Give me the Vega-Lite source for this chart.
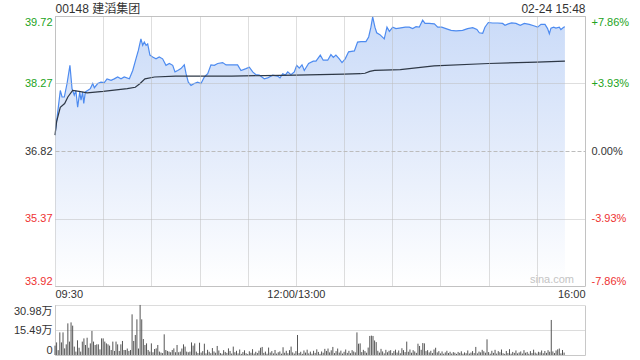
{
  "$schema": "https://vega.github.io/schema/vega-lite/v6.json",
  "padding": {"left": 13, "top": 1, "right": 0, "bottom": 0},
  "background": "white",
  "config": {
    "font": "Liberation Sans",
    "axis": {"labelFont": "Liberation Sans, Noto Sans CJK SC, sans-serif", "labelFontSize": 11, "labelColor": "#333333", "ticks": false, "domain": false, "title": null, "labelOverlap": false},
    "concat": {"spacing": 4}
  },
  "datasets": {
    "price": [
      {"t":0,"p":37.16},{"t":1.5,"p":37.6},{"t":3.3,"p":38.12},{"t":4.4,"p":37.98},{"t":5.8,"p":37.98},{"t":7.5,"p":38.27},{"t":9.3,"p":38.66},{"t":10.6,"p":38.16},{"t":12,"p":38.02},{"t":13,"p":38.12},{"t":14.1,"p":37.76},{"t":15.4,"p":38.09},{"t":16.2,"p":37.91},{"t":17.2,"p":38.09},{"t":17.9,"p":37.84},{"t":18.9,"p":38.09},{"t":20.3,"p":38.12},{"t":22,"p":38.16},{"t":23.5,"p":38.27},{"t":24.5,"p":38.18},{"t":26.6,"p":38.27},{"t":28.6,"p":38.30},{"t":30.7,"p":38.29},{"t":32.4,"p":38.37},{"t":34.9,"p":38.34},{"t":36.9,"p":38.37},{"t":39,"p":38.41},{"t":41.1,"p":38.37},{"t":43.1,"p":38.41},{"t":46.3,"p":38.37},{"t":48.4,"p":38.55},{"t":50.4,"p":38.80},{"t":51.9,"p":38.98},{"t":53.5,"p":39.23},{"t":54.6,"p":39.09},{"t":55.6,"p":39.16},{"t":56.7,"p":39.09},{"t":57.7,"p":39.12},{"t":59.1,"p":38.88},{"t":60.8,"p":38.84},{"t":62.9,"p":38.80},{"t":64.9,"p":38.84},{"t":67,"p":38.80},{"t":69.1,"p":38.66},{"t":71.2,"p":38.70},{"t":73.3,"p":38.66},{"t":74.7,"p":38.52},{"t":76.4,"p":38.55},{"t":78.4,"p":38.59},{"t":80.5,"p":38.67},{"t":81.6,"p":38.48},{"t":83,"p":38.30},{"t":84.7,"p":38.23},{"t":86.7,"p":38.27},{"t":88.8,"p":38.30},{"t":90.9,"p":38.27},{"t":93,"p":38.41},{"t":95.1,"p":38.48},{"t":97.1,"p":38.67},{"t":99.2,"p":38.66},{"t":101.3,"p":38.70},{"t":104.4,"p":38.72},{"t":106.5,"p":38.67},{"t":109.6,"p":38.67},{"t":113.7,"p":38.67},{"t":115.8,"p":38.55},{"t":118.9,"p":38.59},{"t":121,"p":38.62},{"t":123.1,"p":38.52},{"t":125.1,"p":38.46},{"t":127.2,"p":38.45},{"t":130.3,"p":38.37},{"t":132.4,"p":38.39},{"t":135.5,"p":38.45},{"t":138.6,"p":38.43},{"t":140.1,"p":38.39},{"t":141.8,"p":38.48},{"t":143.4,"p":38.45},{"t":144.9,"p":38.52},{"t":146.9,"p":38.46},{"t":149,"p":38.52},{"t":150.5,"p":38.66},{"t":152.1,"p":38.60},{"t":153.8,"p":38.67},{"t":155.2,"p":38.55},{"t":157.9,"p":38.70},{"t":160.8,"p":38.75},{"t":162.5,"p":38.75},{"t":165.2,"p":38.88},{"t":167,"p":38.77},{"t":169.8,"p":38.77},{"t":171.8,"p":38.89},{"t":173.3,"p":38.83},{"t":174.9,"p":38.88},{"t":177,"p":38.80},{"t":178.7,"p":38.72},{"t":180.7,"p":38.80},{"t":182.8,"p":38.95},{"t":186.4,"p":38.97},{"t":188.4,"p":39.16},{"t":190.5,"p":39.17},{"t":193.6,"p":39.17},{"t":195.3,"p":39.27},{"t":196.7,"p":39.48},{"t":197.8,"p":39.70},{"t":199.2,"p":39.48},{"t":200.3,"p":39.36},{"t":202.3,"p":39.32},{"t":205,"p":39.23},{"t":206.7,"p":39.48},{"t":208.2,"p":39.39},{"t":210.3,"p":39.48},{"t":212.3,"p":39.45},{"t":214.4,"p":39.46},{"t":218.1,"p":39.48},{"t":220.6,"p":39.48},{"t":222.7,"p":39.45},{"t":224.8,"p":39.49},{"t":226.8,"p":39.48},{"t":228.9,"p":39.63},{"t":230.4,"p":39.56},{"t":233,"p":39.56},{"t":236.2,"p":39.55},{"t":238.3,"p":39.48},{"t":240.8,"p":39.48},{"t":243.4,"p":39.45},{"t":246.6,"p":39.41},{"t":249.7,"p":39.40},{"t":253.8,"p":39.41},{"t":256.9,"p":39.45},{"t":260.1,"p":39.47},{"t":262.7,"p":39.43},{"t":264.2,"p":39.36},{"t":266.3,"p":39.35},{"t":267.7,"p":39.48},{"t":269.8,"p":39.58},{"t":272.5,"p":39.57},{"t":275.6,"p":39.57},{"t":278.7,"p":39.56},{"t":280.2,"p":39.52},{"t":282.2,"p":39.55},{"t":284.3,"p":39.57},{"t":287,"p":39.56},{"t":289.7,"p":39.52},{"t":292.2,"p":39.56},{"t":295.3,"p":39.54},{"t":298.1,"p":39.51},{"t":300.5,"p":39.48},{"t":302.6,"p":39.54},{"t":305.1,"p":39.54},{"t":306.7,"p":39.45},{"t":307.8,"p":39.34},{"t":308.8,"p":39.46},{"t":310.5,"p":39.48},{"t":311.9,"p":39.46},{"t":314,"p":39.48},{"t":315,"p":39.43},{"t":316.7,"p":39.48},{"t":317.5,"p":39.49}
    ],
    "avg": [
      {"t":0,"a":37.16},{"t":1,"a":37.45},{"t":3.3,"a":37.76},{"t":6,"a":37.84},{"t":8,"a":37.98},{"t":11,"a":38.12},{"t":15,"a":38.10},{"t":20,"a":38.07},{"t":30,"a":38.10},{"t":45,"a":38.16},{"t":50,"a":38.19},{"t":53,"a":38.27},{"t":56,"a":38.37},{"t":62,"a":38.41},{"t":75,"a":38.43},{"t":110,"a":38.43},{"t":130,"a":38.44},{"t":150,"a":38.45},{"t":180,"a":38.47},{"t":190,"a":38.48},{"t":193,"a":38.49},{"t":196,"a":38.53},{"t":199,"a":38.55},{"t":215,"a":38.57},{"t":236,"a":38.65},{"t":270,"a":38.70},{"t":300,"a":38.73},{"t":317.5,"a":38.75}
    ],
    "vol": [
      {"t":0,"v":5.8},{"t":1,"v":7.8},{"t":2,"v":3.0},{"t":3,"v":14.0},{"t":4,"v":7.8},{"t":5,"v":14.0},{"t":6,"v":4.1},{"t":7,"v":6.6},{"t":8,"v":19.6},{"t":9,"v":8.3},
      {"t":10,"v":20.2},{"t":11,"v":18.2},{"t":12,"v":5.2},{"t":13,"v":2.1},{"t":14,"v":9.1},{"t":15,"v":4.5},{"t":16,"v":2.1},{"t":17,"v":8.3},{"t":18,"v":10.3},{"t":19,"v":6.2},
      {"t":20,"v":10.7},{"t":21,"v":4.5},{"t":22,"v":7.2},{"t":23,"v":14.9},{"t":24,"v":8.3},{"t":25,"v":6.2},{"t":26,"v":6.6},{"t":27,"v":6.6},{"t":28,"v":3.5},{"t":29,"v":10.3},
      {"t":30,"v":10.3},{"t":31,"v":8.3},{"t":32,"v":7.2},{"t":33,"v":6.6},{"t":34,"v":5.8},{"t":35,"v":3.1},{"t":36,"v":8.3},{"t":37,"v":2.5},{"t":38,"v":8.3},{"t":39,"v":6.6},
      {"t":40,"v":2.5},{"t":41,"v":6.6},{"t":42,"v":8.7},{"t":43,"v":3.1},{"t":44,"v":3.1},{"t":45,"v":4.0},{"t":46,"v":2.5},{"t":47,"v":3.1},{"t":48,"v":25.2},{"t":49,"v":8.7},
      {"t":50,"v":12.4},{"t":51,"v":22.1},{"t":52,"v":4.0},{"t":53,"v":31.0},{"t":54,"v":22.1},{"t":55,"v":9.9},{"t":56,"v":6.2},{"t":57,"v":7.2},{"t":58,"v":3.1},{"t":59,"v":2.1},
      {"t":60,"v":7.2},{"t":61,"v":1.7},{"t":62,"v":3.7},{"t":63,"v":4.1},{"t":64,"v":6.2},{"t":65,"v":2.1},{"t":66,"v":1.5},{"t":67,"v":1.2},{"t":68,"v":12.8},{"t":69,"v":3.1},
      {"t":70,"v":2.5},{"t":71,"v":2.1},{"t":72,"v":1.7},{"t":73,"v":3.1},{"t":74,"v":4.1},{"t":75,"v":1.7},{"t":76,"v":6.2},{"t":77,"v":1.7},{"t":78,"v":2.1},{"t":79,"v":4.0},
      {"t":80,"v":6.6},{"t":81,"v":5.2},{"t":82,"v":2.1},{"t":83,"v":1.7},{"t":84,"v":2.1},{"t":85,"v":7.8},{"t":86,"v":5.8},{"t":87,"v":7.2},{"t":88,"v":2.1},{"t":89,"v":1.2},
      {"t":90,"v":7.6},{"t":91,"v":1.5},{"t":92,"v":2.4},{"t":93,"v":7.0},{"t":94,"v":1.0},{"t":95,"v":3.2},{"t":96,"v":2.0},{"t":97,"v":1.1},{"t":98,"v":4.3},{"t":99,"v":2.2},
      {"t":100,"v":1.4},{"t":101,"v":5.6},{"t":102,"v":2.8},{"t":103,"v":1.2},{"t":104,"v":0.8},{"t":105,"v":3.0},{"t":106,"v":1.9},{"t":107,"v":1.3},{"t":108,"v":4.1},{"t":109,"v":2.5},
      {"t":110,"v":0.9},{"t":111,"v":5.2},{"t":112,"v":1.7},{"t":113,"v":2.6},{"t":114,"v":1.0},{"t":115,"v":3.4},{"t":116,"v":0.7},{"t":117,"v":1.8},{"t":118,"v":2.9},{"t":119,"v":1.1},
      {"t":120,"v":0.6},{"t":121,"v":2.3},{"t":122,"v":1.4},{"t":123,"v":3.6},{"t":124,"v":0.9},{"t":125,"v":2.0},{"t":126,"v":1.2},{"t":127,"v":2.7},{"t":128,"v":4.5},{"t":129,"v":5.0},
      {"t":130,"v":1.3},{"t":131,"v":2.1},{"t":132,"v":0.8},{"t":133,"v":4.6},{"t":134,"v":1.5},{"t":135,"v":2.4},{"t":136,"v":1.0},{"t":137,"v":3.1},{"t":138,"v":0.9},{"t":139,"v":1.7},
      {"t":140,"v":2.2},{"t":141,"v":0.8},{"t":142,"v":4.8},{"t":143,"v":1.4},{"t":144,"v":2.6},{"t":145,"v":1.1},{"t":146,"v":3.0},{"t":147,"v":5.2},{"t":148,"v":1.6},{"t":149,"v":0.9},
      {"t":150,"v":2.4},{"t":151,"v":12.4},{"t":152,"v":1.2},{"t":153,"v":2.0},{"t":154,"v":0.7},{"t":155,"v":2.8},{"t":156,"v":1.5},{"t":157,"v":3.3},{"t":158,"v":1.0},{"t":159,"v":2.1},
      {"t":160,"v":0.8},{"t":161,"v":2.6},{"t":162,"v":1.3},{"t":163,"v":3.5},{"t":164,"v":1.9},{"t":165,"v":0.7},{"t":166,"v":2.2},{"t":167,"v":1.4},{"t":168,"v":3.8},{"t":169,"v":2.5},
      {"t":170,"v":4.0},{"t":171,"v":1.6},{"t":172,"v":2.9},{"t":173,"v":5.0},{"t":174,"v":1.2},{"t":175,"v":2.4},{"t":176,"v":4.0},{"t":177,"v":1.5},{"t":178,"v":2.7},{"t":179,"v":0.9},
      {"t":180,"v":2.0},{"t":181,"v":3.4},{"t":182,"v":1.3},{"t":183,"v":2.6},{"t":184,"v":1.1},{"t":185,"v":3.0},{"t":186,"v":2.2},{"t":187,"v":1.6},{"t":188,"v":14.0},{"t":189,"v":7.0},
      {"t":190,"v":7.2},{"t":191,"v":1.8},{"t":192,"v":3.2},{"t":193,"v":2.4},{"t":194,"v":1.4},{"t":195,"v":4.6},{"t":196,"v":11.8},{"t":197,"v":12.0},{"t":198,"v":11.8},{"t":199,"v":9.0},
      {"t":200,"v":8.0},{"t":201,"v":2.6},{"t":202,"v":1.5},{"t":203,"v":3.8},{"t":204,"v":2.2},{"t":205,"v":1.0},{"t":206,"v":3.2},{"t":207,"v":1.7},{"t":208,"v":2.6},{"t":209,"v":3.0},
      {"t":210,"v":1.2},{"t":211,"v":2.4},{"t":212,"v":3.3},{"t":213,"v":1.5},{"t":214,"v":2.8},{"t":215,"v":1.1},{"t":216,"v":4.2},{"t":217,"v":3.0},{"t":218,"v":1.8},{"t":219,"v":8.3},
      {"t":220,"v":2.0},{"t":221,"v":3.4},{"t":222,"v":1.4},{"t":223,"v":3.0},{"t":224,"v":2.2},{"t":225,"v":1.3},{"t":226,"v":7.0},{"t":227,"v":5.6},{"t":228,"v":3.2},{"t":229,"v":7.4},
      {"t":230,"v":7.2},{"t":231,"v":2.4},{"t":232,"v":3.0},{"t":233,"v":1.6},{"t":234,"v":2.6},{"t":235,"v":1.2},{"t":236,"v":3.4},{"t":237,"v":4.5},{"t":238,"v":1.6},{"t":239,"v":2.4},
      {"t":240,"v":1.0},{"t":241,"v":2.2},{"t":242,"v":0.8},{"t":243,"v":1.6},{"t":244,"v":2.6},{"t":245,"v":1.2},{"t":246,"v":2.0},{"t":247,"v":0.9},{"t":248,"v":1.8},{"t":249,"v":1.4},
      {"t":250,"v":0.7},{"t":251,"v":1.9},{"t":252,"v":1.3},{"t":253,"v":2.3},{"t":254,"v":0.8},{"t":255,"v":1.6},{"t":256,"v":1.1},{"t":257,"v":2.8},{"t":258,"v":0.9},{"t":259,"v":1.5},
      {"t":260,"v":2.4},{"t":261,"v":1.2},{"t":262,"v":5.0},{"t":263,"v":1.0},{"t":264,"v":2.1},{"t":265,"v":1.6},{"t":266,"v":3.2},{"t":267,"v":2.3},{"t":268,"v":1.4},{"t":269,"v":9.7},
      {"t":270,"v":1.8},{"t":271,"v":0.8},{"t":272,"v":2.6},{"t":273,"v":1.3},{"t":274,"v":3.2},{"t":275,"v":0.9},{"t":276,"v":2.4},{"t":277,"v":1.7},{"t":278,"v":3.4},{"t":279,"v":1.1},
      {"t":280,"v":0.7},{"t":281,"v":2.5},{"t":282,"v":1.2},{"t":283,"v":3.6},{"t":284,"v":0.8},{"t":285,"v":1.9},{"t":286,"v":1.3},{"t":287,"v":2.8},{"t":288,"v":1.0},{"t":289,"v":1.6},
      {"t":290,"v":2.2},{"t":291,"v":0.9},{"t":292,"v":3.0},{"t":293,"v":1.4},{"t":294,"v":1.9},{"t":295,"v":0.8},{"t":296,"v":2.4},{"t":297,"v":1.2},{"t":298,"v":3.3},{"t":299,"v":1.5},
      {"t":300,"v":0.9},{"t":301,"v":2.0},{"t":302,"v":1.6},{"t":303,"v":2.8},{"t":304,"v":1.1},{"t":305,"v":2.5},{"t":306,"v":1.3},{"t":307,"v":3.0},{"t":308,"v":2.0},{"t":309,"v":21.7},
      {"t":310,"v":2.2},{"t":311,"v":1.2},{"t":312,"v":2.8},{"t":313,"v":3.5},{"t":314,"v":4.0},{"t":315,"v":1.0},{"t":316,"v":3.1},{"t":317,"v":1.5}
    ]
  },
  "vconcat": [
    {
      "width": 530,
      "height": 270,
      "view": {"stroke": "#c8c8c8"},
      "resolve": {"axis": {"x": "independent", "y": "independent"}},
      "layer": [
        {
          "data": {"name": "price"},
          "mark": {"type": "area", "clip": true, "fill": {"x1": 0, "y1": 0, "x2": 0, "y2": 1, "gradient": "linear", "stops": [{"offset": 0, "color": "#cadbf8"}, {"offset": 0.5, "color": "#e4ecfb"}, {"offset": 1, "color": "#ffffff"}]}},
          "encoding": {
            "x": {"field": "t", "type": "quantitative", "scale": {"domain": [0, 330], "nice": false, "zero": false},
              "axis": {"orient": "bottom", "zindex": 1, "values": [0, 30, 60, 90, 120, 150, 180, 210, 240, 270, 300, 330], "labelExpr": "datum.value == 0 ? '09:30' : datum.value == 150 ? '12:00/13:00' : datum.value == 330 ? '16:00' : ''", "labelFlush": true, "labelPadding": 2, "grid": true, "gridColor": "#bcbcbc", "gridDash": [1, 1]}},
            "y": {"field": "p", "type": "quantitative", "scale": {"domain": [33.92, 39.72], "nice": false, "zero": false},
              "axis": {"orient": "left", "zindex": 1, "values": [33.92, 35.37, 36.82, 38.27, 39.72], "format": ".2f", "labelFlush": true, "labelPadding": 3, "grid": true, "gridColor": "#bcbcbc",
                "gridDash": {"condition": {"test": "abs(datum.value - 36.82) < 0.01", "value": [4, 2]}, "value": [1, 1]},
                "labelColor": {"condition": [{"test": "datum.value > 37", "value": "#22a322"}, {"test": "datum.value < 36.7", "value": "#ee3333"}], "value": "#333333"}}},
            "y2": {"datum": 33.92}
          }
        },
        {
          "data": {"name": "price"},
          "mark": {"type": "line", "color": "#4d8bf0", "strokeWidth": 1.2, "clip": true},
          "encoding": {
            "x": {"field": "t", "type": "quantitative", "scale": {"domain": [0, 330], "nice": false, "zero": false},
              "axis": {"orient": "top", "values": [0, 330], "labelExpr": "datum.value == 0 ? '00148 建滔集团' : '02-24 15:48'", "labelFlush": true, "labelPadding": 1, "labelFontSize": 12, "grid": false}},
            "y": {"field": "p", "type": "quantitative", "scale": {"domain": [33.92, 39.72], "nice": false, "zero": false},
              "axis": {"orient": "right", "values": [33.92, 35.37, 36.82, 38.27, 39.72], "labelFlush": true, "labelPadding": 6, "grid": false,
                "labelExpr": "datum.value > 39 ? '+7.86%' : datum.value > 38 ? '+3.93%' : datum.value > 36 ? '0.00%' : datum.value > 35 ? '-3.93%' : '-7.86%'",
                "labelColor": {"condition": [{"test": "datum.value > 37", "value": "#22a322"}, {"test": "datum.value < 36.7", "value": "#ee3333"}], "value": "#333333"}}}
          }
        },
        {
          "data": {"name": "avg"},
          "mark": {"type": "line", "color": "#2e3846", "strokeWidth": 1.2},
          "encoding": {
            "x": {"field": "t", "type": "quantitative", "scale": {"domain": [0, 330], "nice": false, "zero": false}, "axis": null},
            "y": {"field": "a", "type": "quantitative", "scale": {"domain": [33.92, 39.72], "nice": false, "zero": false}, "axis": null}
          }
        },
        {
          "data": {"values": [{"t": 330, "p": 33.92}]},
          "mark": {"type": "text", "text": "sina.com", "align": "right", "baseline": "bottom", "color": "#c4c4c4", "fontSize": 11, "dx": -11, "dy": -1},
          "encoding": {
            "x": {"field": "t", "type": "quantitative", "scale": {"domain": [0, 330], "nice": false, "zero": false}, "axis": null},
            "y": {"field": "p", "type": "quantitative", "scale": {"domain": [33.92, 39.72], "nice": false, "zero": false}, "axis": null}
          }
        }
      ]
    },
    {
      "width": 530,
      "height": 50,
      "view": {"stroke": null},
      "data": {"name": "vol"},
      "mark": {"type": "rule", "color": "#555555", "strokeWidth": 1},
      "encoding": {
        "x": {"field": "t", "type": "quantitative", "scale": {"domain": [0, 330], "nice": false, "zero": false},
          "axis": {"orient": "bottom", "values": [0, 330], "labels": false, "domain": true, "domainColor": "#c8c8c8", "grid": true, "gridColor": "#c8c8c8", "gridDash": []}},
        "y": {"field": "v", "type": "quantitative", "scale": {"domain": [0, 30.98], "nice": false},
          "axis": {"values": [0, 15.49, 30.98], "labelExpr": "datum.value == 0 ? '0' : format(datum.value, '.2f') + '万'", "labelFlush": true, "labelPadding": 3, "domain": true, "domainColor": "#c8c8c8", "grid": true, "gridColor": "#b8b8b8", "gridDash": [1, 1],
            "gridOpacity": {"condition": {"test": "datum.value == 0", "value": 0}, "value": 1}}},
        "y2": {"datum": 0}
      }
    }
  ]
}
